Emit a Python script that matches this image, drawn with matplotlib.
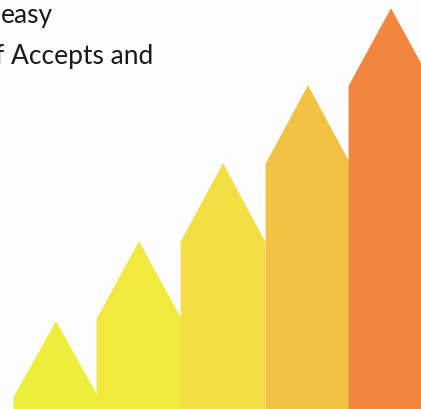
import matplotlib
matplotlib.use("Agg")
import matplotlib.pyplot as plt
from matplotlib.patches import Polygon

# Data (in chart units: 0 = bottom of image)
categories = ["1", "2", "3", "4", "5"]
apex_values = [87, 167, 245, 323, 400]
shoulder_values = [12, 90, 167, 245, 323]
left_edges = [14, 97, 181, 266, 349]
bar_width = 84
colors = ["#EBEF3A", "#F2E93E", "#F3DF44", "#F2C243", "#F2853F"]
text_lines = ["easy", "f Accepts and"]

fig = plt.figure(figsize=(4.21, 4.10), dpi=100)
fig.patch.set_facecolor("#FDFDFD")
ax = fig.add_axes([0, 0, 1, 1])
ax.set_facecolor("#FDFDFD")
ax.set_xlim(0, 421)
ax.set_ylim(0, 410)
ax.axis("off")

for left, top, sh, c in zip(left_edges, apex_values, shoulder_values, colors):
    right = left + bar_width
    mid = left + bar_width / 2
    poly = Polygon([(left, 0), (left, sh), (mid, top), (right, sh), (right, 0)],
                   closed=True, facecolor=c, edgecolor=c, linewidth=0.6)
    ax.add_patch(poly)

ax.text(1, 410 - 23, text_lines[0], fontsize=19, family="Lato", color="#1a1a1a",
        va="baseline", ha="left")
ax.text(-5, 410 - 64, text_lines[1], fontsize=19, family="Lato", color="#1a1a1a",
        va="baseline", ha="left")

fig.savefig("out.png", dpi=100, facecolor=fig.get_facecolor())
